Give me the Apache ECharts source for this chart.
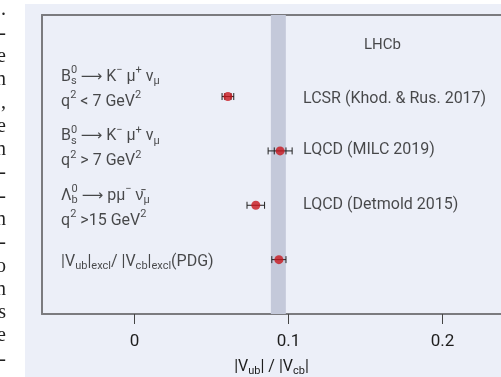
<!DOCTYPE html>
<html>
<head>
<meta charset="utf-8">
<script src="https://cdn.jsdelivr.net/npm/echarts@6/dist/echarts.min.js"></script>
<style>
  html, body { margin: 0; padding: 0; background: #ffffff; }
  #chart { width: 501px; height: 377px; }
</style>
</head>
<body>
<div id="chart"></div>
<script>
// Measurements, listed top row to bottom row
const rowPos = [4, 3, 2, 1];
const ratioValue = [0.0607, 0.0946, 0.0788, 0.0938];
const innerErr = [0.0020, 0.0038, 0, 0];
const totalErr = [0.0038, 0.0078, 0.0057, 0.0046];
const theoryLabels = ['LCSR (Khod. & Rus. 2017)', 'LQCD (MILC 2019)', 'LQCD (Detmold 2015)', ''];
const decayLabels = [
  '{t|B}{sp|0}{sb|s}{t| }{ar|⟶}{t| K}{su|−}{t| μ}{su|+}{t| ν}{sb|μ}\n{t|q}{su|2}{t| < 7 GeV}{su|2}',
  '{t|B}{sp|0}{sb|s}{t| }{ar|⟶}{t| K}{su|−}{t| μ}{su|+}{t| ν}{sb|μ}\n{t|q}{su|2}{t| > 7 GeV}{su|2}',
  '{t|Λ}{sp|0}{sb|b}{t| }{ar|⟶}{t| pμ}{su|−}{t| ν\u0304}{sb|μ}\n{t|q}{su|2}{t| >15 GeV}{su|2}',
  '{t||V}{sb|ub}{t||}{sb|excl}{t|/ |V}{sb|cb}{t||}{sb|excl}{t|(PDG)}'
];
// Average band
const bandRange = [0.0886, 0.0983];
const xTicks = [0, 0.1, 0.2];
const experimentLabel = 'LHCb';
// Fragments of neighbouring column text at the far left
const sideChars = ['.', '-', 'e', 'n', ',', 'e', 'n', '-', '-', 'n', '-', 'o', 'n', 's', 'e', '-', 'a'];

// Layout constants
const X_MIN = -0.06, X_MAX = 0.238, Y_MAX = 5.5;
const LEFT_LABEL_X = -0.0476;
const LEFT_LABEL_SHIFT = [-7, -2, 3, 2];
const RIGHT_LABEL_X = 0.1095;
const RIGHT_LABEL_SHIFT = [2, -1, 0, 0];
const EXP_LABEL_POS = [0.161, 4.95];

const FONT = 'Roboto, sans-serif';
const INK = '#1d1d1d';
const richStyles = {
  t: { fontSize: 16, lineHeight: 25, color: INK, fontFamily: FONT },
  ar: { fontSize: 15, color: INK, fontFamily: '"DejaVu Sans", sans-serif' },
  su: { fontSize: 11, verticalAlign: 'middle', padding: [0, 0, 13, 0], color: INK, fontFamily: FONT },
  sp: { fontSize: 11, verticalAlign: 'middle', padding: [0, 0, 13, 0], width: 0, color: INK, fontFamily: FONT },
  sb: { fontSize: 11, verticalAlign: 'middle', padding: [9, 0, 0, 0], color: INK, fontFamily: FONT }
};

const chart = echarts.init(document.getElementById('chart'), null, { renderer: 'canvas' });

const sideGraphics = sideChars.map((ch, i) => ({
  type: 'text', x: 6, y: 10 + i * 23.3,
  style: { text: ch, fill: '#222', font: '20px "Liberation Serif", "DejaVu Serif", serif',
           align: 'right', verticalAlign: 'middle' },
  z: 0
}));

const option = {
  backgroundColor: 'transparent',
  animation: false,
  graphic: [
    { type: 'rect', shape: { x: 25, y: 4, width: 476, height: 373 },
      style: { fill: '#ECEFF8' }, z: -10 },
    ...sideGraphics
  ],
  grid: { left: 42, right: 0, top: 15, bottom: 63, outerBoundsMode: 'none', containLabel: false },
  xAxis: [
    {
      type: 'value', min: X_MIN, max: X_MAX, position: 'bottom',
      axisLine: { show: true, onZero: false, lineStyle: { color: '#7b7b7f', width: 2 } },
      axisTick: { show: true, length: 10, customValues: xTicks, lineStyle: { color: '#444', width: 1 } },
      axisLabel: { show: true, customValues: xTicks, margin: 19, color: INK, fontSize: 17,
                   fontFamily: FONT, formatter: v => String(+v.toFixed(2)) },
      splitLine: { show: false },
      name: '{t||V}{sb|ub}{t|| / |V}{sb|cb}{t||}',
      nameLocation: 'middle', nameGap: 40,
      nameTextStyle: { rich: richStyles }
    },
    {
      type: 'value', min: X_MIN, max: X_MAX, position: 'top',
      axisLine: { show: true, onZero: false, lineStyle: { color: '#7b7b7f', width: 2 } },
      axisTick: { show: false }, axisLabel: { show: false }, splitLine: { show: false }
    }
  ],
  yAxis: {
    type: 'value', min: 0, max: Y_MAX, position: 'left',
    axisLine: { show: true, onZero: false, lineStyle: { color: '#7b7b7f', width: 2 } },
    axisTick: { show: false }, axisLabel: { show: false }, splitLine: { show: false }
  },
  series: [
    {
      // average band
      type: 'line', data: [], silent: true,
      markArea: {
        silent: true,
        itemStyle: { color: '#C4C9DA', opacity: 1 },
        data: [[{ xAxis: bandRange[0] }, { xAxis: bandRange[1] }]]
      }
    },
    {
      // error bars: outer (total) and inner caps
      type: 'custom', z: 3,
      data: rowPos.map((y, i) => [ratioValue[i], y, totalErr[i], innerErr[i]]),
      renderItem: (params, api) => {
        const v = api.value(0), y = api.value(1), te = api.value(2), ie = api.value(3);
        const lo = api.coord([v - te, y]), hi = api.coord([v + te, y]);
        const h = 3.5;
        const st = { stroke: '#222', lineWidth: 1 };
        const kids = [
          { type: 'line', shape: { x1: lo[0], y1: lo[1], x2: hi[0], y2: hi[1] }, style: st },
          { type: 'line', shape: { x1: lo[0], y1: lo[1] - h, x2: lo[0], y2: lo[1] + h }, style: st },
          { type: 'line', shape: { x1: hi[0], y1: hi[1] - h, x2: hi[0], y2: hi[1] + h }, style: st }
        ];
        if (ie > 0) {
          const ilo = api.coord([v - ie, y]), ihi = api.coord([v + ie, y]);
          kids.push({ type: 'line', shape: { x1: ilo[0], y1: ilo[1] - h, x2: ilo[0], y2: ilo[1] + h }, style: st });
          kids.push({ type: 'line', shape: { x1: ihi[0], y1: ihi[1] - h, x2: ihi[0], y2: ihi[1] + h }, style: st });
        }
        return { type: 'group', children: kids };
      }
    },
    {
      // central values
      type: 'scatter', z: 4, symbol: 'circle', symbolSize: 9,
      itemStyle: { color: '#C8161D' },
      data: rowPos.map((y, i) => [ratioValue[i], y])
    },
    {
      // decay channel labels
      type: 'scatter', symbolSize: 0, silent: true,
      data: rowPos.map((y, i) => ({
        value: [LEFT_LABEL_X, y],
        label: { offset: [0, LEFT_LABEL_SHIFT[i]] }
      })),
      label: {
        show: true, position: 'inside', align: 'left', verticalAlign: 'middle',
        formatter: p => decayLabels[p.dataIndex],
        rich: richStyles
      }
    },
    {
      // form factor labels
      type: 'scatter', symbolSize: 0, silent: true,
      data: rowPos.map((y, i) => ({
        value: [RIGHT_LABEL_X, y],
        label: { offset: [0, RIGHT_LABEL_SHIFT[i]] }
      })),
      label: {
        show: true, position: 'inside', align: 'left', verticalAlign: 'middle',
        formatter: p => theoryLabels[p.dataIndex],
        color: INK, fontSize: 16, fontFamily: FONT
      }
    },
    {
      type: 'scatter', symbolSize: 0, silent: true,
      data: [EXP_LABEL_POS],
      label: {
        show: true, position: 'inside', align: 'center', verticalAlign: 'middle',
        formatter: experimentLabel, color: INK, fontSize: 15, fontFamily: FONT
      }
    }
  ]
};

chart.setOption(option);
</script>
</body>
</html>
